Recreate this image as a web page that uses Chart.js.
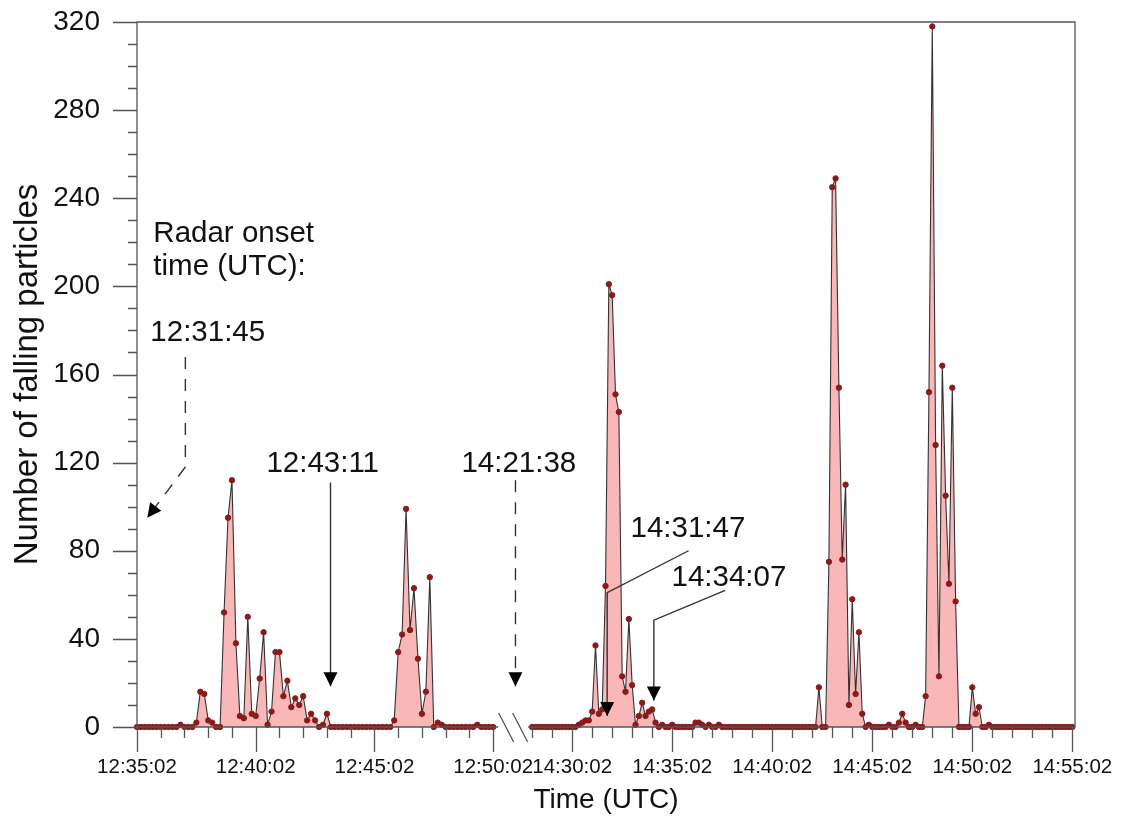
<!DOCTYPE html>
<html>
<head>
<meta charset="utf-8">
<script src="https://cdn.jsdelivr.net/npm/chart.js@4.4.1/dist/chart.umd.min.js"></script>
<style>
  html, body { margin: 0; padding: 0; background: #fff; }
  #wrap { width: 1121px; height: 821px; }
</style>
</head>
<body>
<div id="wrap"><canvas id="chart"></canvas></div>
<script>
// ---- data: particle counts every 10 s, two observation windows ----
const sampleStep = 10; // seconds between samples
const leftStart = '12:35:02';
const leftEnd = '12:50:02';
const leftCounts = [
    0, 0, 0, 0, 0, 0, 0, 0, 0, 0, 0, 1, 0, 0, 0, 2, 16, 15, 3, 2,
    0, 0, 52, 95, 112, 38, 5, 4, 50, 6, 5, 22, 43, 1, 7, 34, 34, 14, 21, 9,
    13, 10, 14, 3, 6, 3, 0, 1, 6, 0, 0, 0, 0, 0, 0, 0, 0, 0, 0, 0,
    0, 0, 0, 0, 0, 3, 34, 42, 99, 44, 63, 31, 6, 16, 68, 0, 2, 1, 0, 0,
    0, 0, 0, 0, 0, 0, 1, 0, 0, 0, 0
];
const rightStart = '14:28:02';
const rightEnd = '14:55:02';
const rightCounts = [
    0, 0, 0, 0, 0, 0, 0, 0, 0, 0, 0, 0, 0, 0, 1, 2, 3, 3, 7, 37,
    6, 8, 64, 201, 196, 151, 143, 23, 16, 49, 19, 1, 5, 11, 5, 7, 8, 2, 0, 1,
    0, 0, 1, 0, 0, 0, 0, 0, 0, 2, 2, 1, 0, 1, 0, 0, 1, 0, 0, 0,
    0, 0, 0, 0, 0, 0, 0, 0, 0, 0, 0, 0, 0, 0, 0, 0, 0, 0, 0, 0,
    0, 0, 0, 0, 0, 0, 18, 0, 0, 75, 245, 249, 154, 76, 110, 10, 58, 15, 43, 6,
    0, 1, 0, 0, 0, 0, 0, 1, 0, 0, 2, 6, 2, 0, 0, 1, 0, 0, 14, 152,
    318, 128, 23, 164, 105, 65, 154, 57, 0, 0, 0, 0, 18, 6, 9, 0, 0, 1, 0, 0,
    0, 0, 0, 0, 0, 0, 0, 0, 0, 0, 0, 0, 0, 0, 0, 0, 0, 0, 0, 0,
    0, 0, 0
];
const xTickLabels = ['12:35:02', '12:40:02', '12:45:02', '12:50:02', '14:30:02',
                     '14:35:02', '14:40:02', '14:45:02', '14:50:02', '14:55:02'];
const yTickValues = [0, 40, 80, 120, 160, 200, 240, 280, 320];
const onsetTimes = ['12:31:45', '12:43:11', '14:21:38', '14:31:47', '14:34:07'];

// ---- broken time axis ----
// left window is drawn a bit wider per minute than the right one, like the original
const LEFT_STRETCH = 1.1867;
const GAP = 117; // axis units between the two windows
const toSec = s => { const [h, m, sec] = s.split(':').map(Number); return h * 3600 + m * 60 + sec; };
const L0 = toSec(leftStart), L1 = toSec(leftEnd), R0 = toSec(rightStart), R1 = toSec(rightEnd);
const gapStart = (L1 - L0) * LEFT_STRETCH;
const gapMid = gapStart + GAP / 2;
function toAxis(sec) {
    if (sec <= L1) return (sec - L0) * LEFT_STRETCH;
    return gapStart + GAP + (sec - R0);
}
const X_MAX = toAxis(R1) + 8;

const points = [];
leftCounts.forEach((v, i) => points.push({ x: toAxis(L0 + i * sampleStep), y: v }));
points.push({ x: gapMid, y: null });
rightCounts.forEach((v, i) => points.push({ x: toAxis(R0 + i * sampleStep), y: v }));

const FONT = '"Liberation Sans", Arial, sans-serif';
const AXIS_COLOR = '#555';

// onset annotations (x in axis units, y in counts)
const T = s => toAxis(toSec(s));
const notes = [
    { text: [['Radar onset', 49, 224], ['time (UTC):', 49, 209], [onsetTimes[0], 40, 179]],
      path: [[145, 168], [145, 118], [31, 95]], dashed: true },
    { text: [[onsetTimes[1], 388, 119.5]],
      path: [[T('12:43:11'), 111], [T('12:43:11'), 18.5]], dashed: false },
    { text: [[onsetTimes[2], 973, 119.5]],
      path: [[1135, 112], [1135, 18.5]], dashed: true },
    { text: [[onsetTimes[3], 1480, 90]],
      path: [[1654, 80], [T('14:31:47'), 61], [T('14:31:47'), 5]], dashed: false },
    { text: [[onsetTimes[4], 1603, 67.5]],
      path: [[1764, 62], [T('14:34:07'), 48.5], [T('14:34:07'), 12]], dashed: false }
];

const brokenAxis = {
    id: 'brokenAxis',
    afterDraw(chart) {
        const { ctx, chartArea: a, scales: { x, y } } = chart;
        ctx.save();
        ctx.strokeStyle = AXIS_COLOR;
        ctx.lineWidth = 1.3;
        // frame
        ctx.beginPath();
        ctx.moveTo(a.left, a.bottom); ctx.lineTo(a.left, a.top); ctx.lineTo(a.right, a.top); ctx.lineTo(a.right, a.bottom);
        ctx.moveTo(a.left, a.bottom); ctx.lineTo(x.getPixelForValue(gapStart) + 5, a.bottom);
        ctx.moveTo(x.getPixelForValue(gapStart + GAP) - 4, a.bottom); ctx.lineTo(a.right, a.bottom);
        ctx.stroke();
        // x ticks every minute, long ones at the labels
        const majors = xTickLabels.map(toSec);
        ctx.beginPath();
        const tick = t => {
            const px = Math.round(x.getPixelForValue(toAxis(t))) + 0.5;
            const len = majors.includes(t) ? 25 : 11;
            ctx.moveTo(px, a.bottom); ctx.lineTo(px, a.bottom + len);
        };
        for (let t = L0; t <= L1; t += 60) tick(t);
        for (let t = R0; t <= R1; t += 60) tick(t);
        // y ticks every 10, long ones every 40
        for (let v = 0; v <= 320; v += 10) {
            const py = Math.round(y.getPixelForValue(v)) + 0.5;
            const len = v % 40 === 0 ? 24 : 9;
            ctx.moveTo(a.left, py); ctx.lineTo(a.left - len, py);
        }
        ctx.stroke();
        // break marks
        const cx = x.getPixelForValue(gapMid);
        ctx.beginPath();
        ctx.moveTo(cx - 14, a.bottom - 14); ctx.lineTo(cx + 1, a.bottom + 15);
        ctx.moveTo(cx, a.bottom - 14); ctx.lineTo(cx + 15, a.bottom + 15);
        ctx.stroke();
        ctx.restore();
    }
};

const onsetNotes = {
    id: 'onsetNotes',
    afterDraw(chart) {
        const { ctx, scales: { x, y } } = chart;
        const P = ([vx, vy]) => [x.getPixelForValue(vx), y.getPixelForValue(vy)];
        ctx.save();
        ctx.font = '29.5px ' + FONT;
        ctx.fillStyle = '#111';
        ctx.strokeStyle = '#333';
        ctx.lineWidth = 1.4;
        ctx.textBaseline = 'middle';
        ctx.textAlign = 'left';
        notes.forEach(n => {
            n.text.forEach(([s, vx, vy]) => { const [px, py] = P([vx, vy]); ctx.fillText(s, px, py); });
            const pts = n.path.map(P);
            ctx.setLineDash(n.dashed ? [12, 10] : []);
            ctx.beginPath();
            pts.forEach(([px, py], i) => i ? ctx.lineTo(px, py) : ctx.moveTo(px, py));
            ctx.stroke();
            ctx.setLineDash([]);
            // arrow head at the last point
            const [x1, y1] = pts[pts.length - 1], [x0, y0] = pts[pts.length - 2];
            const ang = Math.atan2(y1 - y0, x1 - x0);
            ctx.save();
            ctx.translate(x1, y1); ctx.rotate(ang);
            ctx.beginPath();
            ctx.moveTo(0, 0); ctx.lineTo(-14, -7); ctx.lineTo(-14, 7); ctx.closePath();
            ctx.fillStyle = '#000';
            ctx.fill();
            ctx.restore();
        });
        ctx.restore();
    }
};

new Chart(document.getElementById('chart'), {
    type: 'line',
    data: {
        datasets: [{
            data: points,
            borderColor: '#333',
            borderWidth: 1.1,
            backgroundColor: 'rgba(248, 165, 165, 0.8)',
            fill: 'origin',
            spanGaps: false,
            tension: 0,
            pointRadius: 2.7,
            pointBackgroundColor: '#8b1a1a',
            pointBorderColor: '#8b1a1a',
            pointBorderWidth: 1,
            clip: false
        }]
    },
    options: {
        responsive: true,
        maintainAspectRatio: false,
        animation: false,
        events: [],
        layout: { padding: { top: 22, right: 46, bottom: 0, left: 0 } },
        plugins: { legend: { display: false }, tooltip: { enabled: false } },
        scales: {
            x: {
                type: 'linear',
                min: 0,
                max: X_MAX,
                grid: { display: false, drawTicks: false },
                border: { display: false },
                afterFit: s => { s.height = 94; s.paddingLeft = 0; s.paddingRight = 0; },
                afterBuildTicks: s => { s.ticks = xTickLabels.map(l => ({ value: toAxis(toSec(l)) })); },
                ticks: {
                    autoSkip: false,
                    maxRotation: 0,
                    padding: 28,
                    color: '#111',
                    font: { family: FONT, size: 20.5 },
                    callback: (v, i) => xTickLabels[i]
                },
                title: {
                    display: true,
                    text: 'Time (UTC)',
                    color: '#111',
                    font: { family: FONT, size: 28 },
                    padding: { top: 0, bottom: 4 }
                }
            },
            y: {
                min: 0,
                max: 320,
                grid: { display: false, drawTicks: false },
                border: { display: false },
                afterFit: s => { s.width = 137; s.paddingTop = 0; s.paddingBottom = 0; },
                afterBuildTicks: s => { s.ticks = yTickValues.map(v => ({ value: v })); },
                ticks: {
                    padding: 37,
                    color: '#111',
                    font: { family: FONT, size: 28 }
                },
                title: {
                    display: true,
                    text: 'Number of falling particles',
                    color: '#111',
                    font: { family: FONT, size: 33 },
                    padding: { top: 8, bottom: 0 }
                }
            }
        }
    },
    plugins: [brokenAxis, onsetNotes]
});
</script>
</body>
</html>
